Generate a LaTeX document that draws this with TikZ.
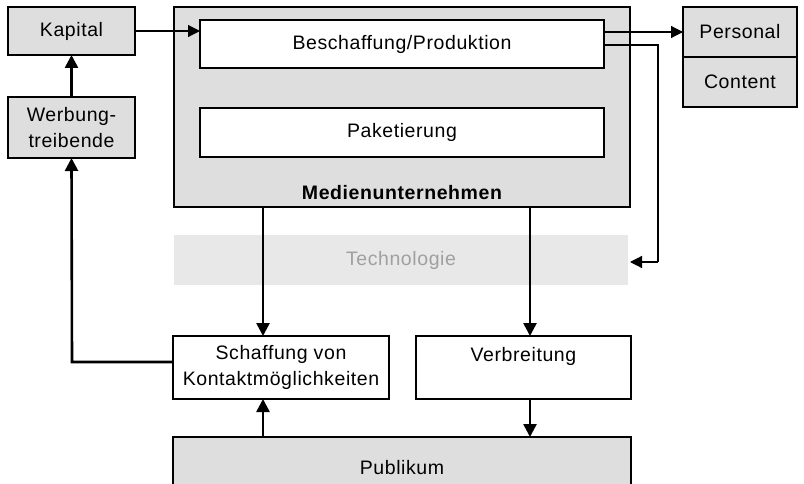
\documentclass[tikz,border=0pt]{standalone}
\usepackage{fontspec}
\setmainfont{Liberation Sans}[LetterSpace=3]
\usetikzlibrary{arrows.meta}
\definecolor{boxgray}{RGB}{222,222,222}
\definecolor{techgray}{RGB}{232,232,232}
\definecolor{techtext}{RGB}{160,160,160}
\begin{document}
\begin{tikzpicture}[x=1pt,y=-1pt,
  every node/.style={inner sep=0pt,outer sep=0pt,font=\fontsize{19.5}{26}\selectfont},
  graybox/.style={draw=black,line width=2pt,fill=boxgray},
  whitebox/.style={draw=black,line width=2pt,fill=white},
  thickarrow/.style={line width=2.6pt,-{Triangle[length=13pt,width=13pt]}},
  thinarrow/.style={line width=1.2pt,-{Triangle[length=12pt,width=12pt]}},
  thinline/.style={line width=1.2pt}]
\clip (0,0) rectangle (804,484);
\useasboundingbox (0,0) rectangle (804,484);

% left column
\node[graybox,minimum width=127,minimum height=48] (kap) at (71.5,31) {Kapital};
\node[graybox,minimum width=127,minimum height=61,align=center] (werb) at (71.5,127.5) {Werbung-\\treibende};

% media company
\node[graybox,minimum width=456,minimum height=200] (medien) at (402,107) {};
\node[whitebox,minimum width=404,minimum height=48] (besch) at (402,44) {Beschaffung/Produktion};
\node[whitebox,minimum width=404,minimum height=49] (paket) at (402,132.5) {Paketierung};
\node[font=\fontsize{19.5}{22}\selectfont\bfseries] (mlabel) at (402,193) {Medienunternehmen};

% resources on the right
\node[graybox,minimum width=114,minimum height=50] (pers) at (740,32) {Personal};
\node[graybox,minimum width=114,minimum height=50] (cont) at (740,82) {Content};

% technology band
\node[fill=techgray,minimum width=454,minimum height=50,text=techtext] (tech) at (401,260) {Technologie};

% lower row
\node[whitebox,minimum width=216,minimum height=63,align=center] (schaff) at (281,367.5) {Schaffung von\\Kontaktmöglichkeiten};
\node[whitebox,minimum width=215,minimum height=63,align=center] (verb) at (523.5,367.5) {Verbreitung\\\phantom{Kontakt}};
\node[graybox,minimum width=458,minimum height=62] (publ) at (402,468) {Publikum};

% connectors
\draw[thickarrow] (werb.north) -- (kap.south);
\draw[thinarrow] (kap.east) -- (kap.east -| besch.west);
\draw[thinarrow] (besch.east |- pers.west) -- (pers.west);
\coordinate (bout) at (604,45);
\coordinate (bcorner) at (658,45);
\coordinate (tcorner) at (658,262);
\coordinate (tin) at (630,262);
\draw[thinline] (bout) -- (bcorner) -- (tcorner);
\draw[thinarrow] (tcorner) -- (tin);
\draw[thickarrow] (medien.south -| 263,0) -- (schaff.north -| 263,0);
\draw[thickarrow] (medien.south -| 530,0) -- (verb.north -| 530,0);
\draw[thickarrow] (verb.south -| 530,0) -- (publ.north -| 530,0);
\draw[thickarrow] (publ.north -| 263,0) -- (schaff.south -| 263,0);
\coordinate (lcorner) at (72,362);
\draw[thickarrow] (schaff.west |- lcorner) -- (lcorner) -- (werb.south);
\end{tikzpicture}
\end{document}
